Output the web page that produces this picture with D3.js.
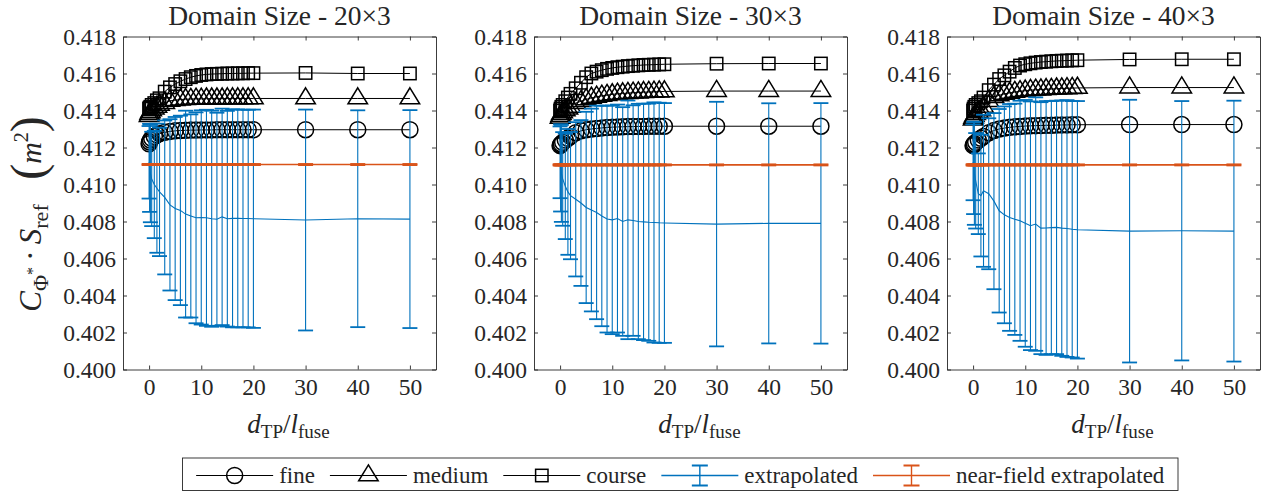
<!DOCTYPE html>
<html><head><meta charset="utf-8">
<script src="https://cdn.jsdelivr.net/npm/d3@7"></script>
<style>
body{margin:0;background:#fff}
svg{display:block}
text{font-family:'Liberation Serif','DejaVu Serif';fill:#262626}
</style>
</head><body>
<svg id="c" width="1266" height="493"></svg>
<script>
// ---------------- data ----------------
const xVals = [0,0.1,0.25,0.5,1,1.5,2,3,4,5,6,7,8,9,10,11,12,13,14,15,16,17,18,19,20,30,40,50];
const xTicks = [0,10,20,30,40,50];
const yTicks = [0.400,0.402,0.404,0.406,0.408,0.410,0.412,0.414,0.416,0.418];
const panelTitles = ["Domain Size - 20\u00D73","Domain Size - 30\u00D73","Domain Size - 40\u00D73"];
const seriesNames = ["fine","medium","course","extrapolated","near-field extrapolated"];

// Domain 20x3
const fine20   = [0.4122,0.4123,0.4124,0.4125,0.4126,0.41268,0.41275,0.41282,0.41287,0.4129,0.41292,0.41293,0.41294,0.41294,0.41295,0.41295,0.41295,0.41296,0.41296,0.41296,0.41296,0.41296,0.41296,0.41296,0.41296,0.41296,0.41296,0.41296];
const medium20 = [0.4137,0.4138,0.4139,0.4140,0.4141,0.4142,0.4143,0.4144,0.41452,0.41456,0.41459,0.41461,0.41462,0.41463,0.41463,0.41464,0.41464,0.41464,0.41464,0.41465,0.41465,0.41465,0.41465,0.41465,0.41465,0.41465,0.41465,0.41465];
const course20 = [0.4141,0.41415,0.4142,0.4143,0.4144,0.41455,0.41466,0.41502,0.41525,0.41543,0.41558,0.4157,0.4158,0.41587,0.41592,0.41595,0.41597,0.41598,0.41599,0.416,0.416,0.41601,0.41601,0.41602,0.41602,0.41603,0.416,0.416];
const extrap20 = [0.4112,0.4109,0.4106,0.4103,0.4100,0.4098,0.4096,0.4093,0.4089,0.4087,0.4086,0.4084,0.4083,0.4082,0.40822,0.4082,0.40815,0.40812,0.40825,0.40815,0.40817,0.40817,0.40816,0.40816,0.40815,0.40808,0.40815,0.40813];
const extrapErr20 = [0.00196,0.00238,0.00264,0.00255,0.0029,0.00349,0.00347,0.00416,0.00463,0.00495,0.00512,0.00559,0.00549,0.0057,0.00579,0.00584,0.00584,0.00576,0.00585,0.00583,0.00589,0.00589,0.00588,0.00588,0.0059,0.00597,0.00586,0.00589];
const near20 = [0.41108,0.41108,0.41108,0.41108,0.41108,0.41108,0.41108,0.41108,0.41108,0.41108,0.41108,0.41108,0.41108,0.41108,0.41108,0.41108,0.41108,0.41108,0.41108,0.41108,0.41108,0.41108,0.41108,0.41108,0.41108,0.41108,0.41108,0.41108];

// Domain 30x3
const fine30   = [0.4121,0.41215,0.4122,0.41228,0.4124,0.4125,0.4126,0.4128,0.4129,0.41296,0.413,0.41303,0.41306,0.41308,0.4131,0.41311,0.41312,0.41313,0.41313,0.41314,0.41314,0.41315,0.41315,0.41315,0.41315,0.41315,0.41315,0.41315];
const medium30 = [0.4136,0.4137,0.4138,0.4139,0.4140,0.4141,0.4142,0.4144,0.4145,0.4146,0.41468,0.41474,0.41479,0.41483,0.41487,0.4149,0.41492,0.41494,0.41496,0.41497,0.41499,0.415,0.41501,0.41502,0.41503,0.41505,0.41505,0.41505];
const course30 = [0.4140,0.4141,0.4142,0.4143,0.4145,0.4147,0.4149,0.4152,0.4155,0.4158,0.4160,0.4161,0.41618,0.41625,0.4163,0.41634,0.41637,0.4164,0.41642,0.41644,0.41646,0.41647,0.41648,0.41649,0.4165,0.41653,0.41654,0.41654];
const extrap30 = [0.4112,0.4109,0.4106,0.4103,0.4099,0.4096,0.4094,0.4092,0.4090,0.40876,0.40862,0.40849,0.4083,0.40813,0.40809,0.40816,0.408,0.40809,0.40805,0.408,0.40798,0.40796,0.40795,0.40793,0.40792,0.40786,0.4079,0.4079];
const extrapErr30 = [0.00194,0.00236,0.00262,0.00253,0.00285,0.0034,0.00344,0.00417,0.00448,0.00517,0.00548,0.00577,0.00596,0.00613,0.00618,0.00616,0.00618,0.00645,0.00623,0.00636,0.00639,0.00641,0.00649,0.00649,0.00648,0.00661,0.00649,0.0065];
const near30 = [0.41106,0.41106,0.41106,0.41106,0.41106,0.41106,0.41106,0.41106,0.41106,0.41106,0.41106,0.41106,0.41106,0.41106,0.41106,0.41106,0.41106,0.41106,0.41106,0.41106,0.41106,0.41106,0.41106,0.41106,0.41106,0.41106,0.41106,0.41106];

// Domain 40x3
const fine40   = [0.4121,0.41215,0.4122,0.41228,0.4124,0.4125,0.4126,0.4128,0.41292,0.413,0.41305,0.41309,0.41312,0.41314,0.41316,0.41317,0.41318,0.41319,0.4132,0.4132,0.41321,0.41322,0.41322,0.41323,0.41323,0.41324,0.41324,0.41324];
const medium40 = [0.4135,0.4136,0.4137,0.4138,0.4139,0.4140,0.4142,0.4145,0.41472,0.41482,0.4149,0.41495,0.415,0.41504,0.41507,0.4151,0.41512,0.41513,0.41515,0.41516,0.41518,0.41519,0.4152,0.41521,0.41522,0.41524,0.41524,0.41524];
const course40 = [0.4140,0.4141,0.4142,0.4143,0.4144,0.4145,0.4147,0.4151,0.4154,0.4157,0.4159,0.4161,0.4163,0.41643,0.4165,0.41655,0.41659,0.41662,0.41664,0.41666,0.41668,0.41669,0.4167,0.41671,0.41672,0.41676,0.41677,0.41677];
const extrap40 = [0.4112,0.4109,0.4106,0.4102,0.4095,0.4094,0.40966,0.4095,0.4091,0.40858,0.40836,0.40822,0.40812,0.40804,0.4079,0.40777,0.40786,0.40764,0.40765,0.40767,0.40768,0.40764,0.40762,0.40758,0.40755,0.40748,0.4075,0.40748];
const extrapErr40 = [0.00205,0.0025,0.00278,0.00258,0.00218,0.00329,0.00411,0.00408,0.00476,0.0055,0.00586,0.00613,0.00625,0.00649,0.00667,0.00672,0.00685,0.00681,0.00686,0.00684,0.00685,0.0069,0.00694,0.00693,0.00696,0.0071,0.00701,0.00705];
const near40 = [0.41106,0.41106,0.41106,0.41106,0.41106,0.41106,0.41106,0.41106,0.41106,0.41106,0.41106,0.41106,0.41106,0.41106,0.41106,0.41106,0.41106,0.41106,0.41106,0.41106,0.41106,0.41106,0.41106,0.41106,0.41106,0.41106,0.41106,0.41106];

const nearErr = 0.00003;

const panels = [
  {title: panelTitles[0], fine: fine20, medium: medium20, course: course20, ext: extrap20, err: extrapErr20, near: near20},
  {title: panelTitles[1], fine: fine30, medium: medium30, course: course30, ext: extrap30, err: extrapErr30, near: near30},
  {title: panelTitles[2], fine: fine40, medium: medium40, course: course40, ext: extrap40, err: extrapErr40, near: near40}
];

// ---------------- layout / style ----------------
const svg = d3.select("#c");
const FONT = "'Liberation Serif','DejaVu Serif'";
const AX = "#262626";
const BLUE = "#0072BD", ORANGE = "#D95319";
const panelLefts = [123, 534, 947];
const PW = 313, TOP = 36.5, BOT = 369.5;
const CAP = 7.5;

function drawMarker(g, type, cx, cy) {
  if (type === "circle") {
    g.append("circle").attr("cx", cx).attr("cy", cy).attr("r", 8)
      .attr("fill", "none").attr("stroke", "#000").attr("stroke-width", 1.5);
  } else if (type === "triangle") {
    const w = 19.5, h = 16;
    g.append("path")
      .attr("d", `M${cx},${cy - 2*h/3} L${cx + w/2},${cy + h/3} L${cx - w/2},${cy + h/3} Z`)
      .attr("fill", "none").attr("stroke", "#000").attr("stroke-width", 1.5).attr("stroke-linejoin","miter");
  } else {
    g.append("rect").attr("x", cx - 6.2).attr("y", cy - 6.2).attr("width", 12.4).attr("height", 12.4)
      .attr("fill", "none").attr("stroke", "#000").attr("stroke-width", 1.5);
  }
}

function errorBars(g, xs, ys, es, x, y, color, lw, capLw, capW) {
  xs.forEach((xv, i) => {
    const px = x(xv), lo = y(ys[i] - es[i]), hi = y(ys[i] + es[i]);
    g.append("line").attr("x1", px).attr("x2", px).attr("y1", lo).attr("y2", hi)
      .attr("stroke", color).attr("stroke-width", lw);
    [lo, hi].forEach(py => g.append("line").attr("x1", px - capW).attr("x2", px + capW)
      .attr("y1", py).attr("y2", py).attr("stroke", color).attr("stroke-width", capLw));
  });
  g.append("path").attr("d", d3.line().x((d, i) => x(xs[i])).y(d => y(d))(ys))
    .attr("fill", "none").attr("stroke", color).attr("stroke-width", lw);
}

panels.forEach((p, pi) => {
  const L = panelLefts[pi];
  const x = d3.scaleLinear().domain([-5, 55]).range([L, L + PW]);
  const y = d3.scaleLinear().domain([0.400, 0.418]).range([BOT, TOP]);
  const g = svg.append("g");

  const styleAxis = sel => {
    sel.attr("color", AX).attr("font-family", FONT).attr("font-size", 23.5);
    sel.selectAll("text").attr("fill", AX);
    sel.selectAll("line").attr("stroke-width", 0.9);
    sel.select(".domain").attr("stroke-width", 0.9);
  };
  g.append("g").attr("transform", `translate(0,${BOT})`)
    .call(d3.axisBottom(x).tickValues(xTicks).tickSize(-4).tickSizeOuter(0).tickPadding(9).tickFormat(d3.format("d")))
    .call(styleAxis);
  g.append("g").attr("transform", `translate(0,${TOP})`)
    .call(d3.axisTop(x).tickValues(xTicks).tickSize(-4).tickSizeOuter(0).tickFormat(""))
    .call(styleAxis);
  g.append("g").attr("transform", `translate(${L},0)`)
    .call(d3.axisLeft(y).tickValues(yTicks).tickSize(-4).tickSizeOuter(0).tickPadding(7).tickFormat(d3.format(".3f")))
    .call(styleAxis);
  g.append("g").attr("transform", `translate(${L + PW},0)`)
    .call(d3.axisRight(y).tickValues(yTicks).tickSize(-4).tickSizeOuter(0).tickFormat(""))
    .call(styleAxis);

  const data = g.append("g");
  const line = d3.line().x((d, i) => x(xVals[i])).y(d => y(d));
  [["fine", "circle"], ["medium", "triangle"], ["course", "square"]].forEach(([k, m]) => {
    data.append("path").attr("d", line(p[k])).attr("fill", "none").attr("stroke", "#000").attr("stroke-width", 1);
    p[k].forEach((v, i) => drawMarker(data, m, x(xVals[i]), y(v)));
  });
  errorBars(data, xVals, p.ext, p.err, x, y, BLUE, 1.1, 1.8, CAP);
  errorBars(data, xVals, p.near, p.near.map(() => nearErr), x, y, ORANGE, 1.6, 1.8, CAP);

  g.append("text").attr("x", L + PW / 2).attr("y", 25).attr("text-anchor", "middle")
    .attr("font-family", FONT).attr("font-size", 27.5).text(p.title);

  const xl = g.append("text").attr("x", L + PW / 2 + 9).attr("y", 433).attr("text-anchor", "middle")
    .attr("font-family", FONT).attr("font-size", 27);
  xl.append("tspan").attr("font-style", "italic").text("d");
  xl.append("tspan").attr("font-size", 19).attr("dy", 5).text("TP");
  xl.append("tspan").attr("dy", -5).text("/");
  xl.append("tspan").attr("font-style", "italic").text("l");
  xl.append("tspan").attr("font-size", 19).attr("dy", 5).text("fuse");
});

const ya = svg.append("text").attr("transform", "translate(41,258) rotate(-90)").attr("text-anchor", "middle")
  .attr("font-family", FONT).attr("font-size", 31);
ya.append("tspan").attr("font-style", "italic").text("C");
ya.append("tspan").attr("font-size", 22).attr("dy", 7).text("\u03A6");
ya.append("tspan").attr("font-size", 16).attr("dy", -10).text("*");
ya.append("tspan").attr("dy", 3).text("\u2009\u00B7\u2009");
ya.append("tspan").attr("font-style", "italic").text("S");
ya.append("tspan").attr("font-size", 22).attr("dy", 7).text("ref");

const yb = svg.append("text").attr("transform", "translate(42,148) rotate(-90)").attr("text-anchor", "middle")
  .attr("font-family", FONT).attr("font-size", 30);
yb.append("tspan").attr("font-size", 48).attr("dy", 2).text("(");
yb.append("tspan").attr("font-style", "italic").attr("dy", -3).text("m");
yb.append("tspan").attr("font-size", 20).attr("dy", -13).text("2");
yb.append("tspan").attr("font-size", 48).attr("dy", 16).text(")");

const lg = svg.append("g");
const lgBox = lg.append("rect").attr("y", 458).attr("height", 32.5).attr("fill", "#fff").attr("stroke", AX).attr("stroke-width", 0.9);
const LY = 475.5, LINE = 77, GAP_T = 6, GAP_E = 15;
const markerTypes = ["circle", "triangle", "square", "eb", "eb"];
let cx = 0;
const items = lg.append("g");
seriesNames.forEach((name, i) => {
  const it = items.append("g");
  const x0 = cx;
  const col = i < 3 ? "#000" : (i === 3 ? BLUE : ORANGE);
  it.append("line").attr("x1", x0).attr("x2", x0 + LINE).attr("y1", LY).attr("y2", LY).attr("stroke", col).attr("stroke-width", i < 3 ? 1 : 1.4);
  const mx = x0 + LINE / 2;
  if (i < 3) drawMarker(it, markerTypes[i], mx, LY);
  else {
    it.append("line").attr("x1", mx).attr("x2", mx).attr("y1", LY - 10).attr("y2", LY + 10).attr("stroke", col).attr("stroke-width", 1.4);
    [LY - 10, LY + 10].forEach(py => it.append("line").attr("x1", mx - 8).attr("x2", mx + 8).attr("y1", py).attr("y2", py).attr("stroke", col).attr("stroke-width", 2));
  }
  const t = it.append("text").attr("x", x0 + LINE + GAP_T).attr("y", LY + 7.5).attr("font-family", FONT).attr("font-size", 23).text(name);
  cx = x0 + LINE + GAP_T + t.node().getComputedTextLength() + GAP_E;
});
const total = cx - GAP_E;
const boxL = 182.5, boxR = 1178;
const startX = (boxL + boxR) / 2 - total / 2;
items.attr("transform", `translate(${startX},0)`);
lgBox.attr("x", boxL).attr("width", boxR - boxL);
</script>
</body></html>
